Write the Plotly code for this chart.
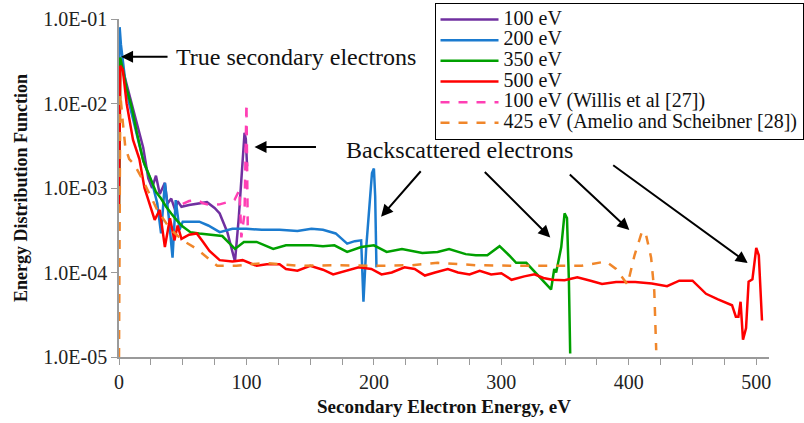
import plotly.graph_objects as go

# ---------------- data ----------------
e_100 = [0.5, 3, 7, 11, 15, 19, 23, 26, 29, 32, 36, 38, 41, 44, 46, 49, 55, 62, 69, 75, 79, 85, 91, 94, 97, 98.5, 99.5, 100.5]
v_100 = [3.5e-2, 2.5e-2, 1.4e-2, 8.4e-3, 5e-3, 3e-3, 1.3e-3, 1.0e-3, 1.4e-3, 8.5e-4, 1.15e-3, 6.5e-4, 7.5e-4, 5.5e-4,
         7e-4, 6e-4, 6.3e-4, 6.6e-4, 6.8e-4, 5.8e-4, 5e-4, 3e-4, 1.35e-4, 4.5e-4, 2e-3, 4.5e-3, 3.8e-3, 1.8e-3]

e_200 = [0, 0.5, 1.5, 3, 5, 8, 11, 14, 17, 20, 23, 26, 30, 33, 36, 39, 42, 44.5, 47.5, 50, 55, 63, 70, 79, 89, 100,
         112, 126, 140, 151, 160, 170, 179, 185, 190, 191.8, 194, 196.5, 198.5, 200, 201, 202]
v_200 = [1.7e-3, 8e-2, 5e-2, 3e-2, 1.8e-2, 1e-2, 6.5e-3, 4e-3, 2.8e-3, 1.9e-3, 1.5e-3, 1.15e-3, 6.6e-4, 2.9e-4, 1.15e-3,
         4.6e-4, 1.5e-4, 7.2e-4, 3.2e-4, 4e-4, 4e-4, 4e-4, 3.6e-4, 3e-4, 3.3e-4, 3.3e-4, 3.2e-4, 3.2e-4, 3.1e-4, 3.3e-4,
         3.2e-4, 2.9e-4, 2.2e-4, 2.35e-4, 2.4e-4, 4.5e-5, 2e-4, 5.4e-4, 1.5e-3, 1.7e-3, 8e-4, 1.15e-4]

e_350 = [0, 1, 3, 6, 10, 14, 19, 23, 26, 29, 33, 37, 41, 45, 50, 56, 63, 73, 81, 91, 98, 108, 121, 131, 141, 151, 160,
         169, 179, 190, 200, 210, 222, 230, 238, 250, 259, 272, 280, 289, 298.6, 306, 311.6, 319.6, 330, 339, 341.5,
         343, 347, 349.6, 351.5, 353, 354]
v_350 = [5.5e-4, 3.5e-2, 2.5e-2, 1.5e-2, 9e-3, 4.5e-3, 2.1e-3, 1.5e-3, 1.2e-3, 9e-4, 7.5e-4, 6e-4, 5e-4, 4.2e-4, 3.5e-4,
         3e-4, 2.9e-4, 2.8e-4, 2.7e-4, 1.9e-4, 2.3e-4, 2.3e-4, 1.9e-4, 2.1e-4, 2.1e-4, 2.1e-4, 2.05e-4, 2.1e-4, 1.75e-4,
         2e-4, 2.1e-4, 1.75e-4, 1.9e-4, 1.8e-4, 1.7e-4, 1.75e-4, 1.9e-4, 1.65e-4, 1.6e-4, 1.6e-4, 2.05e-4, 1.6e-4,
         1.3e-4, 1.3e-4, 8.7e-5, 6.3e-5, 1.1e-4, 1.0e-4, 2e-4, 5e-4, 4.4e-4, 8e-5, 1.1e-5]

e_500 = [0, 1, 3, 6, 11, 16, 20, 24, 28, 32, 36, 40, 43.5, 46, 49, 55, 61, 66, 71, 79, 89, 97, 108, 116, 126, 131, 140,
         150, 160, 168, 178, 188, 198, 206, 214, 224, 232, 240, 248, 258, 266, 275, 283, 292, 300, 308, 318, 326, 333,
         340, 349.6, 359.6, 370, 379, 390, 405, 418, 430, 439.6, 450, 460.6, 470, 481, 484, 486, 487.7, 489.6, 492,
         494, 497, 500, 502, 504.5]
v_500 = [6e-4, 2.8e-2, 2.5e-2, 1e-2, 3.7e-3, 2.2e-3, 1e-3, 6.3e-4, 4.2e-4, 5.5e-4, 2e-4, 4.4e-4, 2.4e-4, 3.6e-4, 2.5e-4,
         2.8e-4, 2.9e-4, 2.3e-4, 1.8e-4, 1.4e-4, 1.35e-4, 1.4e-4, 1.2e-4, 1.25e-4, 1.25e-4, 1.1e-4, 1.05e-4, 1.2e-4,
         1.08e-4, 9.5e-5, 1.05e-4, 1.15e-4, 1.1e-4, 9.5e-5, 1.0e-4, 1.15e-4, 1.1e-4, 9.2e-5, 1.0e-4, 1.1e-4, 1.0e-4,
         9.5e-5, 1.05e-4, 9.5e-5, 9.8e-5, 8.2e-5, 9e-5, 9.5e-5, 8.6e-5, 8.2e-5, 8.1e-5, 8.8e-5, 8e-5, 7.3e-5, 7.7e-5,
         7.7e-5, 7.4e-5, 6.9e-5, 8e-5, 8e-5, 5.6e-5, 4.8e-5, 4.1e-5, 3.0e-5, 3.0e-5, 4.5e-5, 1.6e-5, 2.2e-5, 7.8e-5,
         8.3e-5, 1.95e-4, 1.6e-4, 2.7e-5]

e_willis = [50, 55, 61.5, 66, 71, 79, 85, 90.6, 94.5, 96, 98.5, 100, 101]
v_willis = [6.5e-4, 7e-4, 7.2e-4, 6.6e-4, 6.3e-4, 6.4e-4, 6.8e-4, 7.2e-4, 9.5e-4, 2.6e-4, 5e-4, 1e-2, 3.5e-4]

e_amelio = [0, 1, 3, 5, 8, 12, 18, 24, 30, 40, 50, 61, 70, 77, 92, 115, 141, 170, 200, 230, 250, 280, 310, 343, 363,
            382, 390, 399, 404.5, 410.5, 413.5, 417.5, 420, 421.5]
v_amelio = [1e-5, 1.3e-2, 6e-3, 3e-3, 2.2e-3, 1.9e-3, 1.3e-3, 8.5e-4, 5.5e-4, 3.3e-4, 2.4e-4, 1.9e-4, 1.45e-4, 1.2e-4,
            1.2e-4, 1.3e-4, 1.2e-4, 1.22e-4, 1.2e-4, 1.22e-4, 1.3e-4, 1.22e-4, 1.2e-4, 1.2e-4, 1.2e-4, 1.35e-4, 1.1e-4,
            7.2e-5, 1.6e-4, 3.1e-4, 2.8e-4, 1.5e-4, 6e-5, 1.2e-5]

y_tickvals = [1e-5, 1e-4, 1e-3, 1e-2, 1e-1]
y_ticktext = ["1.0E-05", "1.0E-04", "1.0E-03", "1.0E-02", "1.0E-01"]

series = [
    ("100 eV", e_100, v_100, "#7030A0", "solid"),
    ("200 eV", e_200, v_200, "#1B7BCF", "solid"),
    ("350 eV", e_350, v_350, "#00A000", "solid"),
    ("500 eV", e_500, v_500, "#FF0000", "solid"),
    ("100 eV (Willis et al [27])", e_willis, v_willis, "#FF3FB4", "dash"),
    ("425 eV (Amelio and Scheibner [28])", e_amelio, v_amelio, "#F0862A", "dash"),
]

SERIF = "Liberation Serif, Times New Roman, serif"
LEGEND_TEXT_PX = 20

fig = go.Figure()
for name, ex, vy, col, dash in series:
    fig.add_trace(go.Scatter(x=ex, y=vy, mode="lines",
                             name=f'<span style="font-size:{LEGEND_TEXT_PX}px">{name}</span>',
                             line=dict(color=col, width=2.5, dash=dash)))

AX = "#9A9A9A"
fig.update_xaxes(range=[0, 510], dtick=100, tick0=0, showline=True, linecolor=AX, linewidth=1.5,
                 ticks="outside", ticklen=6, tickcolor=AX, showgrid=False, zeroline=False,
                 minor=dict(dtick=25, ticks="outside", ticklen=6, tickcolor=AX),
                 tickfont=dict(family=SERIF, size=20, color="#222"),
                 title=dict(text="<b>Secondary Electron Energy, eV</b>", font=dict(family=SERIF, size=19, color="#111"),
                            standoff=8),
                 layer="below traces")
fig.update_yaxes(type="log", range=[-5, -1], tickvals=y_tickvals, ticktext=y_ticktext, showline=True,
                 linecolor=AX, linewidth=1.5, ticks="outside", ticklen=6, tickcolor=AX, showgrid=False,
                 zeroline=False, tickfont=dict(family=SERIF, size=20, color="#222"),
                 title=dict(text="<b>Energy Distribution Function</b>", font=dict(family=SERIF, size=18, color="#111"),
                            standoff=11),
                 layer="below traces")

arrows = [  # (x head in eV, log10 y head, ax px, ay px)
    (1.6, -1.447, 48, 0),
    (106.3, -2.514, 63, 0),
    (205.6, -3.340, 41, -47),
    (338.4, -3.585, -67, -67),
    (400.4, -3.498, -61, -57),
    (493.3, -3.889, -136, -99),
]
for hx, hy, ax, ay in arrows:
    fig.add_annotation(x=hx, y=hy, xref="x", yref="y", ax=ax, ay=ay, text="", showarrow=True,
                       arrowhead=2, arrowsize=1.2, arrowwidth=2, arrowcolor="black")

fig.add_annotation(x=43.5, y=-1.45, xref="x", yref="y", text="True secondary electrons", showarrow=False,
                   xanchor="left", yanchor="middle", font=dict(family=SERIF, size=24, color="#111"))
fig.add_annotation(x=176.5, y=-2.55, xref="x", yref="y", text="Backscattered electrons", showarrow=False,
                   xanchor="left", yanchor="middle", font=dict(family=SERIF, size=24, color="#111"))

fig.update_layout(
    width=804, height=423,
    margin=dict(l=119, r=35, t=19, b=66, autoexpand=False),
    paper_bgcolor="white", plot_bgcolor="white",
    font=dict(family=SERIF, color="#111"),
    showlegend=True,
    legend=dict(x=0.4854, y=1.047, xanchor="left", yanchor="top", bgcolor="white",
                bordercolor="black", borderwidth=1, font=dict(family=SERIF, size=13.6, color="#111"),
                itemwidth=58, tracegroupgap=0),
)

fig.write_html("out.html", config={"displayModeBar": False},
               post_script="document.body.style.margin='0';document.body.style.overflow='hidden';")
